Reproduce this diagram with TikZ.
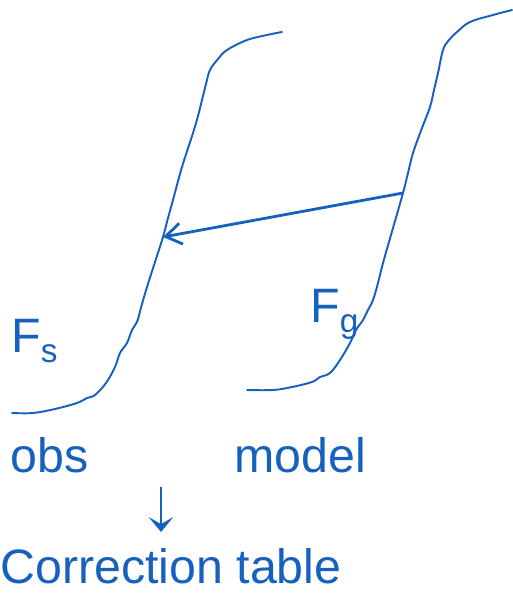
\documentclass[tikz,border=0pt]{standalone}
\usepackage{fontspec}
\setmainfont{Liberation Sans}
\usetikzlibrary{arrows.meta}
\definecolor{penblue}{HTML}{1660BE}
\newcommand{\subtxt}[1]{\raisebox{-0.22em}{\fontsize{19}{20}\selectfont #1}}

\begin{document}
\begin{tikzpicture}[
    x=0.02cm, y=-0.02cm,
    curve/.style={penblue, line width=1.1pt, line cap=round, line join=round},
    arr/.style={penblue, line width=1.6pt, -{Straight Barb[length=9pt, width=12pt]}},
    down/.style={penblue, line width=1.2pt, -{Stealth[length=8.5pt, width=14pt, inset=4pt]}},
    lbl/.style={penblue, inner sep=0pt, anchor=base west, font=\fontsize{27.5}{33}\selectfont}
]
\useasboundingbox (0,0) rectangle (513,594);

% observed distribution
\draw[curve] plot[smooth, tension=0.6] coordinates {(12,413) (33,413) (55,409) (77,403) (87,398) (95,395) (106,383) (115,367) (120,353) (127,343) (132,330) (137,322) (142,304) (147,287) (155,262) (163,237) (168,218) (173,200) (182,167) (193,133) (198,116) (202,100) (206,84) (210,70) (218,59) (227,50) (247,40) (267,35) (282,32)};
% model distribution
\draw[curve] plot[smooth, tension=0.6] coordinates {(247,390) (273,390) (292,387) (312,382) (320,377) (330,373) (340,360) (350,343) (356,330) (363,320) (368,310) (373,300) (378,283) (383,263) (393,228) (403,193) (408,173) (413,153) (422,128) (430,107) (434,90) (438,73) (443,50) (449,40) (457,32) (470,22) (493,15) (512,10)};

\coordinate (gpt) at (403,193);
\coordinate (spt) at (163,237);
\draw[arr] (gpt) -- (spt);

\node[lbl] (fs) at (11,352) {F\subtxt{s}};
\node[lbl] (fg) at (310,322) {F\subtxt{g}};
\node[lbl] (obs) at (10,472) {obs};
\node[lbl] (model) at (234,472) {model};
\node[lbl] (corr) at (0,583) {Correction table};

\coordinate (dtop) at (161,487);
\coordinate (dtip) at (161,532);
\draw[down] (dtop) -- (dtip);
\end{tikzpicture}
\end{document}
